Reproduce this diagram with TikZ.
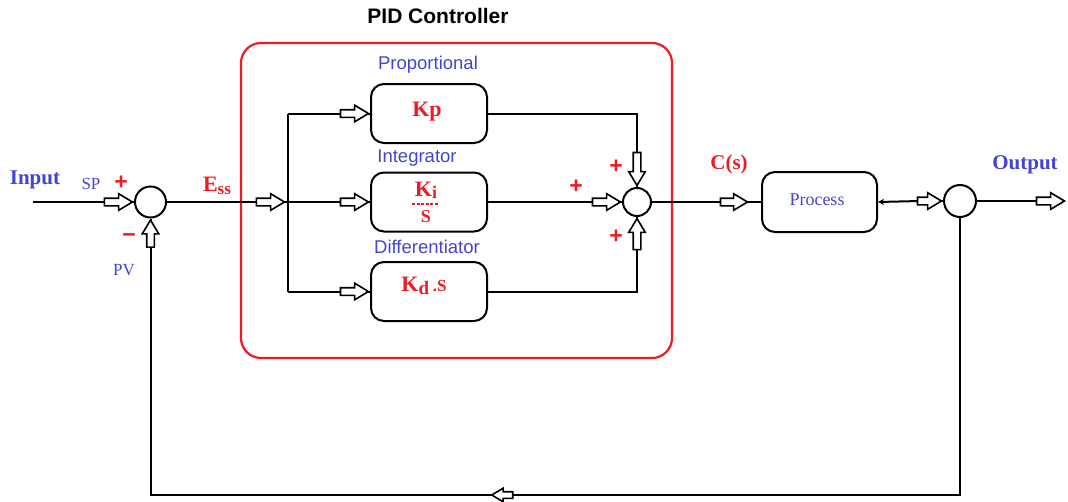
\documentclass[tikz,border=0pt]{standalone}
\usepackage{fontspec}
\setmainfont{Liberation Serif}
\setsansfont{Liberation Sans}
\usetikzlibrary{shapes.arrows,arrows.meta}
\definecolor{pidred}{RGB}{237,28,36}
\definecolor{lblue}{RGB}{68,68,210}
\newcommand\fsz[1]{\fontsize{#1}{#1}\selectfont}
\begin{document}
\begin{tikzpicture}[x=1pt,y=-1pt,
  ln/.style={line width=2pt,black},
  sumc/.style={circle,draw,line width=2pt,fill=white,inner sep=0pt},
  blk/.style={draw,line width=2pt,rounded corners=13pt,minimum width=116pt,minimum height=59pt,inner sep=0pt},
  harrow/.style={single arrow,draw,fill=white,line width=1.6pt,inner xsep=0pt,inner ysep=3pt,
     single arrow head extend=4.5pt,single arrow tip angle=62,minimum height=#1},
  harrow/.default=28pt,
  redt/.style={text=pidred,font=\bfseries\fsz{22}},
  bluesf/.style={text=lblue,font=\sffamily\fsz{18.5}},
  bluerm/.style={text=lblue,font=\fsz{17}},
  plus/.style={text=pidred,font=\sffamily\bfseries\fsz{23}}
]
\useasboundingbox (0,0) rectangle (1068,501);

% red PID box
\node[draw=pidred,line width=2.2pt,rounded corners=20pt,minimum width=431pt,minimum height=315pt,inner sep=0pt] (pid) at (456.5,200.5) {};
\node[font=\sffamily\bfseries\fsz{21}] (pidt) at (438,16) {PID Controller};

% summing junctions
\node[sumc,minimum size=31pt] (s1) at (150.5,202) {};
\node[sumc,minimum size=28pt] (s2) at (637,202) {};
\node[sumc,minimum size=32pt] (s3) at (960,201) {};

% blocks
\node[blk] (kp) at (429,113.5) {};
\node[blk] (ki) at (429,202) {};
\node[blk] (kd) at (429,291.5) {};
\node[blk,minimum width=115pt,minimum height=60pt] (proc) at (819.5,202) {};

% coordinates
\coordinate (inp) at (33,202);
\coordinate (jt) at (288,113.5);
\coordinate (jm) at (288,202);
\coordinate (jb) at (288,291.5);
\coordinate (ct) at (637,113.5);
\coordinate (cb) at (637,291.5);
\coordinate (pr) at (920,201);
\coordinate (outp) at (1040,201);
\coordinate (fbr) at (960,495);
\coordinate (fbl) at (150.5,495);

% connectors
\draw[ln] (inp) -- (s1.west);
\draw[ln] (s1.east) -- (jm);
\draw[ln] (jt) -- (jb);
\draw[ln] (jt) -- (kp.west);
\draw[ln] (jm) -- (ki.west);
\draw[ln] (jb) -- (kd.west);
\draw[ln] (kp.east) -- (ct) -- (s2.north);
\draw[ln] (ki.east) -- (s2.west);
\draw[ln] (kd.east) -- (cb) -- (s2.south);
\draw[ln] (s2.east) -- (proc.west);
\draw[ln,-{Stealth[length=6pt,width=6pt]}] (pr) -- (proc.east);
\draw[ln] (pr) -- (s3.west);
\draw[ln] (s3.east) -- (outp);
\draw[ln] (s3.south) -- (fbr) -- (fbl) -- (s1.south);

% hollow arrows
\node[harrow,anchor=tip] (a1) at (s1.west) {};
\node[harrow=27pt,rotate=90,anchor=tip] (a2) at (s1.south) {};
\node[harrow,anchor=tip] (a3) at (286,202) {};
\node[harrow,anchor=tip] (a4) at (kp.west) {};
\node[harrow,anchor=tip] (a5) at (ki.west) {};
\node[harrow,anchor=tip] (a6) at (kd.west) {};
\node[harrow=33pt,rotate=-90,anchor=tip] (a7) at (s2.north) {};
\node[harrow,anchor=tip] (a8) at (s2.west) {};
\node[harrow=31pt,rotate=90,anchor=tip] (a9) at (s2.south) {};
\node[harrow=27pt,anchor=tip] (a10) at (749,202) {};
\node[harrow=24pt,anchor=tip] (a11) at (s3.west) {};
\node[harrow=28pt,anchor=tip] (a12) at (1066,201) {};
\node[harrow=21pt,rotate=180,inner ysep=2.5pt,single arrow head extend=3.5pt] (a13) at (505,495) {};

% block texts
\node[redt] (kpt) at (427,112) {Kp};
\node[redt,inner sep=0pt] (kit) at (426,190) {K\raisebox{-2pt}{\fsz{18}i}};
\node[text=pidred,font=\bfseries\fsz{18},inner sep=0pt] (kis) at (426,217) {S};
\coordinate (kdl) at (412,204);
\coordinate (kdr) at (439,204);
\draw[pidred,line width=1.1pt,dash pattern=on 3pt off 1.5pt] (kdl) -- (kdr);
\node[redt] (kdt) at (424,286) {K\raisebox{-3pt}{\fsz{19}d}\,{\fsz{17}.S}};
\node[text=lblue,font=\fsz{18}] (proct) at (817,200) {Process};

% labels
\node[bluesf] (lp) at (428,65) {Proportional};
\node[bluesf] (li) at (417,158) {Integrator};
\node[bluesf] (ld) at (427,247) {Differentiator};
\node[text=lblue,font=\bfseries\fsz{21}] (lin) at (35,180) {Input};
\node[text=lblue,font=\bfseries\fsz{21}] (lout) at (1025,165) {Output};
\node[bluerm] (lsp) at (91,184) {SP};
\node[bluerm] (lpv) at (124,270) {PV};
\node[redt] (less) at (217,186) {E\raisebox{-3pt}{\fsz{17}ss}};
\node[text=pidred,font=\bfseries\fsz{21}] (lcs) at (729,164) {C(s)};
\node[plus] (p1) at (121,183) {+};
\node[plus] (m1) at (129,238) {−};
\node[plus] (p2) at (616,167) {+};
\node[plus] (p3) at (576,187) {+};
\node[plus] (p4) at (616,237) {+};
\end{tikzpicture}
\end{document}
